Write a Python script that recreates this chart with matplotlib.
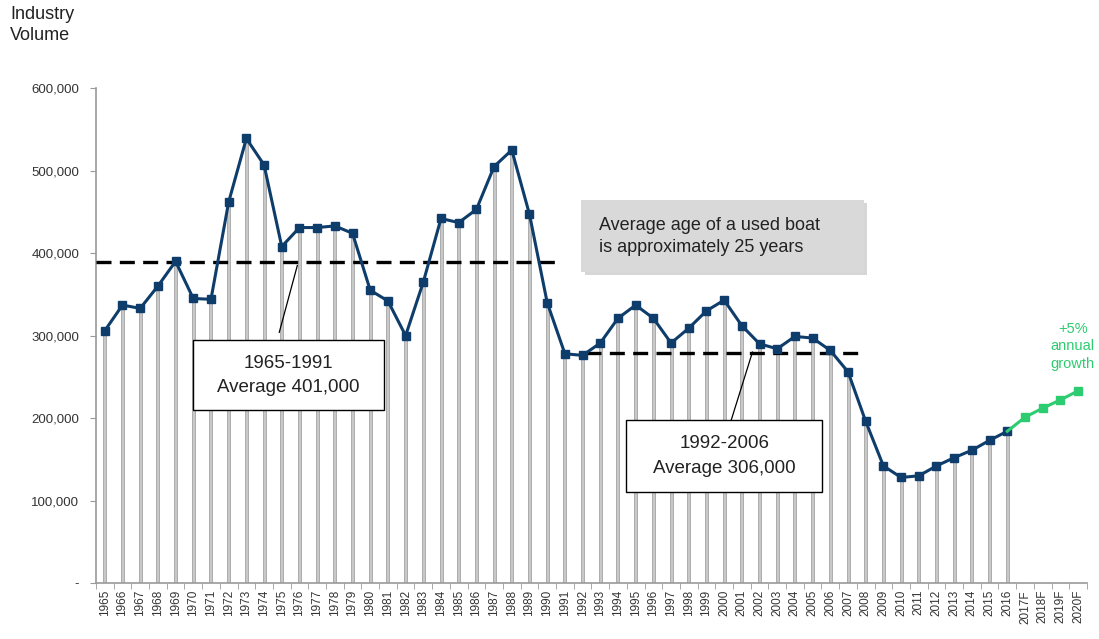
import numpy as np
import matplotlib.pyplot as plt
from matplotlib.patches import Rectangle

plt.rcParams['font.family'] = ['Liberation Sans', 'DejaVu Sans']

years = [str(y) for y in range(1965, 2017)] + ['2017F', '2018F', '2019F', '2020F']
# actual industry volume 1965-2016
actual = [306, 337, 333, 360, 390, 345, 344, 462, 539, 507,
          408, 431, 431, 433, 424, 355, 342, 300, 365, 442,
          437, 453, 505, 525, 447, 340, 278, 276, 291, 321,
          337, 321, 291, 309, 330, 343, 312, 290, 284, 299,
          297, 282, 256, 196, 142, 128, 130, 142, 152, 161,
          173, 184]
# forecast, +5% growth (2016 value repeated to join the lines)
forecast = [184, 201, 212, 222, 233]
actual = np.array(actual) * 1000
forecast = np.array(forecast) * 1000

avg_levels = [389000, 279000]          # dashed lines as drawn
avg_spans = [(-0.5, 25.7), (27.2, 42.8)]

navy = '#0f3d6b'
green = '#2ecc71'

fig = plt.figure(figsize=(10.99, 6.39), dpi=100)
ax = fig.add_axes([0.0873, 0.0876, 0.9017, 0.7744])

x = np.arange(len(years))
n_act = len(actual)

# thin grey drop bars
ax.bar(x[:n_act], actual, width=0.17, color='#c8c8c8', edgecolor='#a4a4a4',
       linewidth=0.6, zorder=1)

# average dashed lines
for lvl, (x0, x1) in zip(avg_levels, avg_spans):
    ax.plot([x0, x1], [lvl, lvl], color='black', lw=2.4,
            linestyle=(0, (4.5, 2.5)), zorder=3)

ax.plot(x[:n_act], actual, color=navy, lw=2.2, marker='s', markersize=5.5,
        zorder=4)
ax.plot(x[n_act - 1:], forecast, color=green, lw=2.2, marker='s',
        markersize=5.5, zorder=4, markevery=list(range(1, len(forecast))))

# annotation boxes
ax.plot([9.86, 10.88], [304000, 385000], color='black', lw=0.9, zorder=5)
ax.plot([35.4, 36.6], [197600, 280000], color='black', lw=0.9, zorder=5)

ax.add_patch(Rectangle((4.99, 209700), 10.77, 84800, fc='white', ec='black',
                       lw=1.0, zorder=6))
ax.text(10.37, 252000, '1965-1991\nAverage 401,000', ha='center', va='center',
        fontsize=13.5, color='#222222', linespacing=1.55, zorder=7)

ax.add_patch(Rectangle((29.48, 110300), 11.05, 87300, fc='white', ec='black',
                       lw=1.0, zorder=6))
ax.text(35.0, 154000, '1992-2006\nAverage 306,000', ha='center', va='center',
        fontsize=13.5, color='#222222', linespacing=1.55, zorder=7)

# grey note box with shadow
ax.add_patch(Rectangle((27.12, 373500), 15.98, 87000, fc='#b5b5b5', ec='none',
                       alpha=0.55, zorder=5))
ax.add_patch(Rectangle((26.93, 377000), 15.98, 87000, fc='#d9d9d9', ec='none',
                       zorder=6))
ax.text(27.9, 420600, 'Average age of a used boat\nis approximately 25 years',
        ha='left', va='center', fontsize=13, color='#222222',
        linespacing=1.4, zorder=7)

ax.text(54.7, 287000, '+5%\nannual\ngrowth', ha='center', va='center',
        fontsize=10.5, color=green, linespacing=1.3)

fig.text(0.009, 0.99, 'Industry\nVolume', ha='left', va='top', fontsize=13,
         color='#222222', linespacing=1.3)

# axes styling
ax.set_xlim(-0.5, len(years) - 0.5)
ax.set_ylim(0, 600000)
ax.set_yticks(np.arange(0, 600001, 100000))
ax.set_yticklabels(['-'] + [f'{v:,}' for v in range(100000, 600001, 100000)])
ax.set_xticks(x)
ax.set_xticklabels(years, rotation=90, fontsize=8.5, color='#333333')
ax.set_xticks(np.arange(-0.5, len(years), 1), minor=True)
ax.tick_params(axis='x', which='major', length=0, pad=5)
ax.tick_params(axis='x', which='minor', length=4, color='#999999')
ax.tick_params(axis='y', length=4, color='#999999', labelsize=9.5,
               labelcolor='#333333', pad=8)
for s in ['top', 'right']:
    ax.spines[s].set_visible(False)
for s in ['left', 'bottom']:
    ax.spines[s].set_color('#999999')
    ax.spines[s].set_linewidth(1.2)

fig.savefig('out.png', dpi=100)
